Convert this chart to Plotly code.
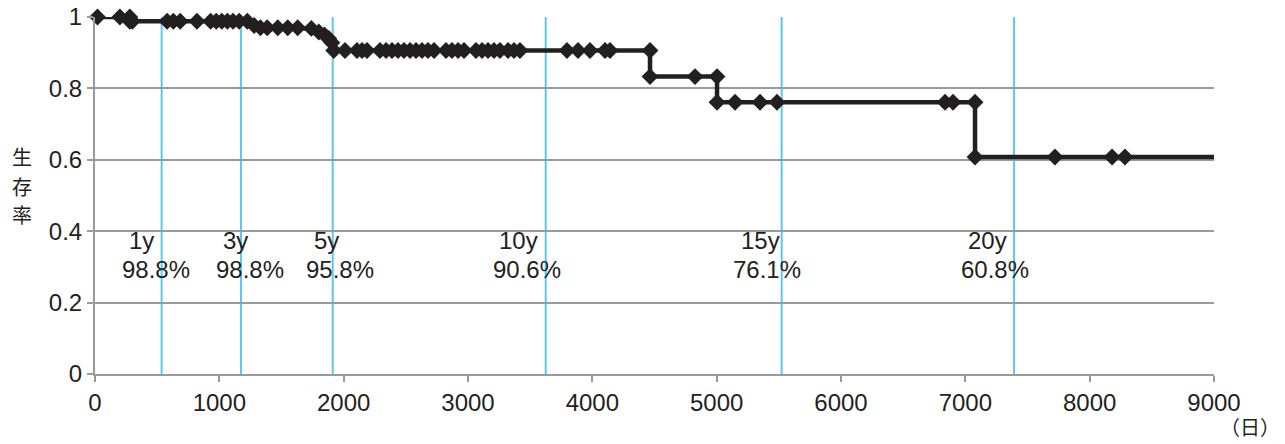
import plotly.graph_objects as go

# ---- data ----
days = [20, 200, 280, 280, 300,
        580, 630, 685, 820, 930, 975, 1020, 1065, 1110, 1160,
        1225, 1280, 1330, 1385, 1470, 1550, 1630,
        1740, 1800, 1845, 1880, 1905, 1920,
        2011, 2107, 2148, 2188, 2292, 2341, 2389, 2437, 2485, 2534, 2582, 2630, 2678, 2727,
        2823, 2871, 2920, 2968, 3064, 3113, 3161, 3209, 3257, 3322, 3370, 3418,
        3796, 3885, 3981, 4102, 4142, 4464,
        4464, 4826, 5003,
        5003, 5148, 5349, 5485, 6837, 6901, 7078,
        7078, 7721, 8180, 8284]
surv = [1.0, 1.0, 1.0, 0.988, 0.988,
        0.988, 0.988, 0.988, 0.988, 0.988, 0.988, 0.988, 0.988, 0.988, 0.988,
        0.988, 0.976, 0.970, 0.970, 0.970, 0.970, 0.970,
        0.968, 0.958, 0.950, 0.940, 0.928, 0.906,
        0.906, 0.906, 0.906, 0.906, 0.906, 0.906, 0.906, 0.906, 0.906, 0.906, 0.906, 0.906, 0.906, 0.906,
        0.906, 0.906, 0.906, 0.906, 0.906, 0.906, 0.906, 0.906, 0.906, 0.906, 0.906, 0.906,
        0.906, 0.906, 0.906, 0.906, 0.906, 0.906,
        0.833, 0.833, 0.833,
        0.761, 0.761, 0.761, 0.761, 0.761, 0.761, 0.761,
        0.608, 0.608, 0.608, 0.608]
line_end_day = 9000

# landmark years (vertical lines) and labels
mark_days = [536, 1174, 1912, 3625, 5523, 7392]
year_labels = ["1y", "3y", "5y", "10y", "15y", "20y"]
year_label_x = [370, 1126, 1860, 3410, 5349, 7175]
rate_labels = ["98.8%", "98.8%", "95.8%", "90.6%", "76.1%", "60.8%"]
rate_label_x = [491, 1247, 1971, 3475, 5405, 7239]
year_label_y = 0.373
rate_label_y = 0.294

x_ticks = list(range(0, 9001, 1000))
y_ticks = [0, 0.2, 0.4, 0.6, 0.8, 1]
y_tick_text = ["0", "0.2", "0.4", "0.6", "0.8", "1"]
y_title_chars = ["生", "存", "率"]
x_unit = "（日）"

FONT = "Liberation Sans, Arial, sans-serif"
CJK = "Noto Sans CJK JP, sans-serif"
DARK = "#231F20"
BLUE = "#5BC8F0"
GRID = "#9A9A9A"

OFF = 8  # page body margin
W, H = 1285 - OFF, 444 - OFF
ml, mt = 95 - OFF, 17 - OFF
pw, ph = 1119, 357
mr, mb = W - ml - pw, H - mt - ph


def px_to_paper(px, py):
    return (px - OFF - ml) / pw, 1 - (py - OFF - mt) / ph


fig = go.Figure()

# step curve line (extended to the last day)
fig.add_trace(go.Scatter(
    x=days + [line_end_day], y=surv + [surv[-1]],
    mode="lines", line=dict(color=DARK, width=4.5),
    hoverinfo="skip", showlegend=False, cliponaxis=False))
# markers
fig.add_trace(go.Scatter(
    x=days, y=surv, mode="markers",
    marker=dict(symbol="diamond", size=13, color=DARK, line=dict(width=0)),
    showlegend=False, cliponaxis=False))

shapes = []
for d in mark_days:
    shapes.append(dict(type="line", xref="x", yref="y", x0=d, x1=d, y0=0, y1=1.0,
                       line=dict(color=BLUE, width=2), layer="below"))

annotations = []
for lab, xx in zip(year_labels, year_label_x):
    annotations.append(dict(x=xx, y=year_label_y, xref="x", yref="y", text=lab,
                            xanchor="center", yanchor="middle",
                            showarrow=False, font=dict(family=FONT, size=24, color=DARK)))
for lab, xx in zip(rate_labels, rate_label_x):
    annotations.append(dict(x=xx, y=rate_label_y, xref="x", yref="y", text=lab,
                            xanchor="center", yanchor="middle",
                            showarrow=False, font=dict(family=FONT, size=24, color=DARK)))
for ch, py in zip(y_title_chars, [157, 186, 214]):
    ax, ay = px_to_paper(22, py)
    annotations.append(dict(x=ax, y=ay, xref="paper", yref="paper", text=ch,
                            xanchor="center", yanchor="middle",
                            showarrow=False, font=dict(family=CJK, size=20, color=DARK)))
ux, uy = px_to_paper(1250, 427)
annotations.append(dict(x=ux, y=uy, xref="paper", yref="paper", text=x_unit,
                        xanchor="center", yanchor="middle",
                        showarrow=False, font=dict(family=CJK, size=20, color=DARK)))

fig.update_layout(
    width=W, height=H,
    margin=dict(l=ml, r=mr, t=mt, b=mb, pad=0, autoexpand=False),
    paper_bgcolor="white", plot_bgcolor="white",
    shapes=shapes, annotations=annotations,
    font=dict(family=FONT, size=24, color=DARK),
    xaxis=dict(range=[0, 9000], tickvals=x_ticks, showgrid=False, zeroline=False,
               automargin=False, ticklabeloverflow="allow",
               showline=True, linecolor=GRID, linewidth=2,
               ticks="outside", ticklen=6, tickcolor=GRID, tickwidth=2,
               tickfont=dict(family=FONT, size=24, color=DARK)),
    yaxis=dict(range=[0, 1], tickvals=y_ticks, ticktext=y_tick_text,
               automargin=False, ticklabeloverflow="allow",
               showgrid=True, gridcolor=GRID, gridwidth=1.5, zeroline=False,
               showline=True, linecolor=GRID, linewidth=2,
               ticks="outside", ticklen=6, tickcolor=GRID, tickwidth=2,
               tickfont=dict(family=FONT, size=24, color=DARK)),
)

fig.write_html("out.html")
